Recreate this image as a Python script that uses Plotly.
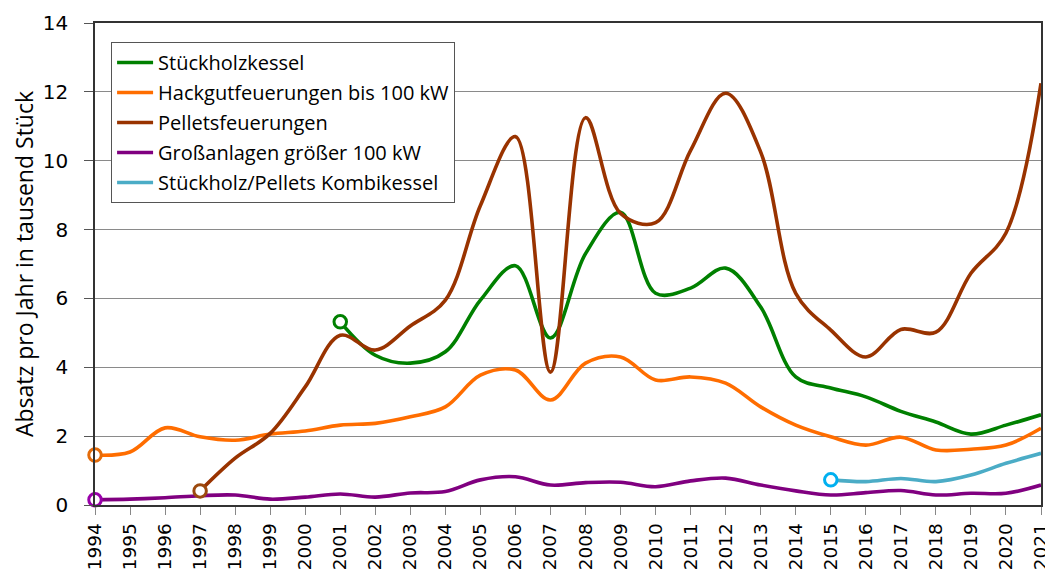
import plotly.graph_objects as go

years = list(range(1994, 2022))

stueckholz_years = list(range(2001, 2022))
stueckholz = [5.32, 4.35, 4.12, 4.45, 5.95, 6.95, 4.85, 7.3, 8.5, 6.15, 6.3, 6.88, 5.75,
              3.72, 3.4, 3.14, 2.72, 2.41, 2.06, 2.32, 2.62]

hackgut_years = list(range(1994, 2022))
hackgut = [1.45, 1.54, 2.24, 1.98, 1.88, 2.06, 2.15, 2.32, 2.37, 2.56, 2.85, 3.77, 3.92, 3.05,
           4.12, 4.3, 3.63, 3.72, 3.54, 2.85, 2.32, 1.98, 1.74, 1.97, 1.6, 1.62, 1.74, 2.23]

pellets_years = list(range(1997, 2022))
pellets = [0.41, 1.36, 2.08, 3.43, 4.93, 4.5, 5.2, 5.95, 8.7, 10.7, 3.86, 11.25, 8.47, 8.2,
           10.3, 11.96, 10.25, 6.15, 5.08, 4.3, 5.1, 5.02, 6.73, 7.9, 12.25]

gross_years = list(range(1994, 2022))
gross = [0.15, 0.17, 0.21, 0.27, 0.29, 0.17, 0.23, 0.32, 0.23, 0.35, 0.39, 0.73, 0.82, 0.58,
         0.65, 0.66, 0.53, 0.7, 0.78, 0.58, 0.41, 0.29, 0.36, 0.42, 0.29, 0.34, 0.34, 0.58]

kombi_years = list(range(2015, 2022))
kombi = [0.73, 0.68, 0.77, 0.68, 0.87, 1.21, 1.5]

series = [
    ("Stückholzkessel", stueckholz_years, stueckholz, "#008000", "#008000"),
    ("Hackgutfeuerungen bis 100 kW", hackgut_years, hackgut, "#FF6D00", "#E46C0A"),
    ("Pelletsfeuerungen", pellets_years, pellets, "#993300", "#9C4A0E"),
    ("Großanlagen größer 100 kW", gross_years, gross, "#800080", "#9900AA"),
    ("Stückholz/Pellets Kombikessel", kombi_years, kombi, "#4BACC6", "#00B0F0"),
]

fig = go.Figure()
for i, (name, xs, ys, col, mcol) in enumerate(series):
    fig.add_trace(go.Scatter(
        x=xs, y=ys, name=name, mode="lines", legendgroup=f"g{i}",
        line=dict(color=col, width=3.6, shape="spline", smoothing=1.0),
    ))
for name, xs, ys, col, mcol in series:
    fig.add_trace(go.Scatter(
        x=[xs[0]], y=[ys[0]], mode="markers", showlegend=False, hoverinfo="skip",
        marker=dict(symbol="circle", size=12.5, color="white",
                    line=dict(color=mcol, width=3)),
        cliponaxis=False,
    ))

font_fam = "Open Sans, Liberation Sans, sans-serif"
# the page body adds an 8px offset, so the figure is sized to fit the window
fig.update_layout(
    width=1045, height=567,
    margin=dict(l=87, r=12, t=15, b=70, autoexpand=False),
    paper_bgcolor="white", plot_bgcolor="white",
    font=dict(family=font_fam, color="#000000"),
    showlegend=True,
    legend=dict(
        x=0.017, y=0.9606, xanchor="left", yanchor="top",
        bgcolor="white", bordercolor="#555555", borderwidth=1,
        font=dict(size=20, family=font_fam, color="#000000"),
        itemwidth=36, tracegroupgap=1,
    ),
    xaxis=dict(
        range=[1994, 2021], tickmode="array", tickvals=years,
        ticktext=[str(y) for y in years], tickangle=-90,
        ticks="outside", ticklen=8, tickcolor="#888888",
        showgrid=False, zeroline=False, automargin=False,
        showline=True, linecolor="#333333", linewidth=1.5, mirror=True,
        tickfont=dict(size=18.5, family="DejaVu Sans"),
        ticklabelstandoff=1,
    ),
    yaxis=dict(
        range=[0, 14], dtick=2, tick0=0,
        ticks="outside", ticklen=9, tickcolor="#555555",
        showgrid=True, gridcolor="#8a8a8a", gridwidth=1, zeroline=False,
        showline=True, linecolor="#333333", linewidth=1.5, mirror=True,
        automargin=False,
        tickfont=dict(size=20, family="DejaVu Sans"),
        ticklabelstandoff=12,
        title=dict(text="Absatz pro Jahr in tausend Stück",
                   font=dict(size=23, family=font_fam), standoff=4),
    ),
)

fig.write_html("out.html")
